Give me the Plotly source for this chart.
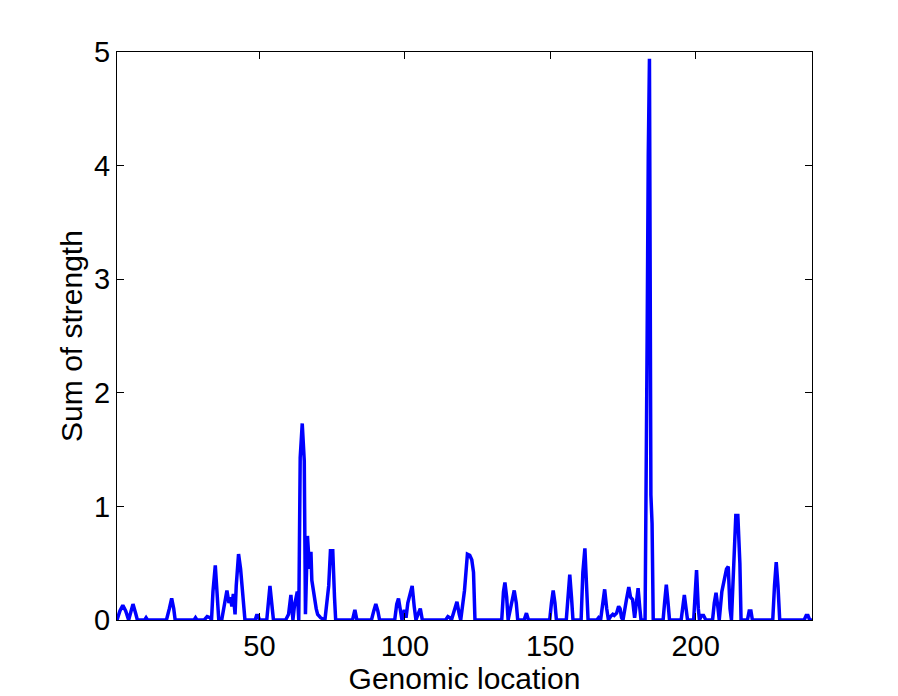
import plotly.graph_objects as go

# Genomic location (x) and sum of strength (y) vertices
location = [
    1, 2, 3, 4, 5, 6, 6.5, 7.5, 8,
    10.5, 11, 11.5,
    18, 19, 19.8, 20.5, 21,
    27.5, 28, 28.5,
    31, 32, 33, 33.5, 34, 34.8, 35.5, 36,
    37, 38, 38.8, 39.5, 40, 40.5, 41, 41.6, 42, 42.8, 43.5, 44, 44.5, 45,
    48.5, 49, 49.5, 50,
    52.5, 53, 53.6, 54.2, 54.8,
    59, 60, 60.8, 61.5, 62, 63, 63.5, 64, 64.7, 65.4, 65.8, 66.5, 67.2, 67.7, 68, 68.8, 69.5, 70, 71, 72.5,
    73, 73.8, 74.4, 75.2, 75.8, 76.2,
    82, 82.8, 83.5,
    88.5, 89.3, 90, 90.7, 91.3,
    96.5, 97.2, 97.8, 98.5, 99, 99.8, 100.4, 101, 101.8, 102.5, 103.2, 103.8, 104.5, 105.3, 106,
    114, 114.8, 115.5, 116, 117, 117.9, 118.7, 119.2, 120.5, 121.5, 122.3, 123, 123.6, 124.1,
    133.3, 133.9, 134.4, 135, 135.5, 136.6, 137.6, 138.3, 138.8,
    141, 141.8, 142.5,
    149.8, 150.4, 151, 151.6, 152.1,
    155.5, 156.1, 156.7, 157.3, 157.8,
    160.6, 161.2, 161.9, 162.5, 163,
    166, 166.6, 167.3, 168, 168.7, 169.4, 170, 170.7, 171.5, 172, 172.8, 173.5, 174, 174.5, 175,
    176.2, 177, 177.6, 178.3, 179, 179.5, 180.2, 180.8, 181.2,
    182.6, 182.9, 183.3, 183.7, 184.1, 184.6, 185, 185.4,
    188.8, 189.3, 189.9, 190.5, 191,
    195, 195.6, 196.1, 196.7, 197.2,
    199.3, 199.8, 200.3, 200.9, 201.3, 202, 202.7, 203.5,
    205.8, 206.4, 207, 207.6, 208.1, 209, 209.8, 210.6, 211.2, 211.8, 212.3,
    213, 213.8, 214.5, 215.2, 215.6,
    217.8, 218.4, 219, 219.5,
    226.5, 227.1, 227.7, 228.3, 228.9,
    237.3, 238, 238.6, 239.2, 240,
]
strength = [
    0, 0.08, 0.13, 0.08, 0, 0.10, 0.14, 0.05, 0,
    0, 0.02, 0,
    0, 0.10, 0.19, 0.10, 0,
    0, 0.02, 0,
    0, 0.03, 0.02, 0, 0.25, 0.48, 0.25, 0,
    0, 0.15, 0.26, 0.15, 0.20, 0.12, 0.23, 0.05, 0.30, 0.58, 0.45, 0.30, 0.12, 0,
    0, 0.04, 0.04, 0,
    0, 0.15, 0.30, 0.15, 0,
    0, 0.05, 0.22, 0, 0.12, 0.25, 0, 1.43, 1.73, 1.40, 0.05, 0.74, 0.45, 0.60, 0.35, 0.20, 0.10, 0.05, 0.02, 0,
    0.10, 0.30, 0.61, 0.61, 0.20, 0,
    0, 0.09, 0,
    0, 0.08, 0.14, 0.08, 0,
    0, 0.14, 0.19, 0.08, 0, 0.09, 0.02, 0.15, 0.22, 0.30, 0.12, 0, 0.05, 0.10, 0,
    0, 0.03, 0.02, 0, 0.08, 0.16, 0.05, 0, 0.26, 0.58, 0.57, 0.53, 0.42, 0,
    0, 0.25, 0.33, 0.20, 0, 0.12, 0.26, 0.15, 0,
    0, 0.06, 0,
    0, 0.15, 0.26, 0.15, 0,
    0, 0.22, 0.40, 0.20, 0,
    0, 0.42, 0.63, 0.30, 0,
    0, 0.02, 0, 0.15, 0.27, 0.10, 0, 0.03, 0.05, 0.04, 0.06, 0.12, 0.10, 0.02, 0,
    0.18, 0.29, 0.20, 0.18, 0.02, 0.14, 0.28, 0.10, 0,
    0, 0.85, 2.45, 4.10, 4.94, 1.10, 0.85, 0,
    0, 0.15, 0.31, 0.15, 0,
    0, 0.12, 0.22, 0.10, 0,
    0, 0.30, 0.44, 0.10, 0, 0.04, 0.04, 0,
    0, 0.15, 0.24, 0.12, 0, 0.25, 0.37, 0.45, 0.47, 0.10, 0,
    0.50, 0.92, 0.92, 0.50, 0,
    0, 0.08, 0.08, 0,
    0, 0.30, 0.51, 0.30, 0,
    0, 0.04, 0.04, 0, 0,
]

x_ticks = [50, 100, 150, 200]
y_ticks = [0, 1, 2, 3, 4, 5]

FONT = "Liberation Sans, Arial, Helvetica, sans-serif"

fig = go.Figure()
fig.add_trace(go.Scatter(
    x=location, y=strength, mode="lines",
    line=dict(color="#0000FF", width=3.5),
    showlegend=False, hoverinfo="x+y",
))

axis_common = dict(
    showgrid=False, zeroline=False,
    showline=True, linecolor="black", linewidth=1,
    mirror="ticks", ticks="inside", ticklen=7, tickwidth=1, tickcolor="black",
    tickfont=dict(family=FONT, size=29, color="black"),
)

fig.update_xaxes(
    range=[1, 240], tickvals=x_ticks, ticktext=[str(v) for v in x_ticks],
    title=dict(text="Genomic location", font=dict(family=FONT, size=30, color="black"), standoff=0),
    **axis_common,
)
fig.update_yaxes(
    range=[0, 5], tickvals=y_ticks, ticktext=[str(v) for v in y_ticks],
    title=dict(text="Sum of strength", font=dict(family=FONT, size=30, color="black"), standoff=2),
    **axis_common,
)

fig.update_layout(
    width=890, height=688,
    margin=dict(l=109, r=86, t=44, b=76, pad=0),
    paper_bgcolor="white", plot_bgcolor="white",
    font=dict(family=FONT, color="black"),
)

fig.write_html("out.html")
